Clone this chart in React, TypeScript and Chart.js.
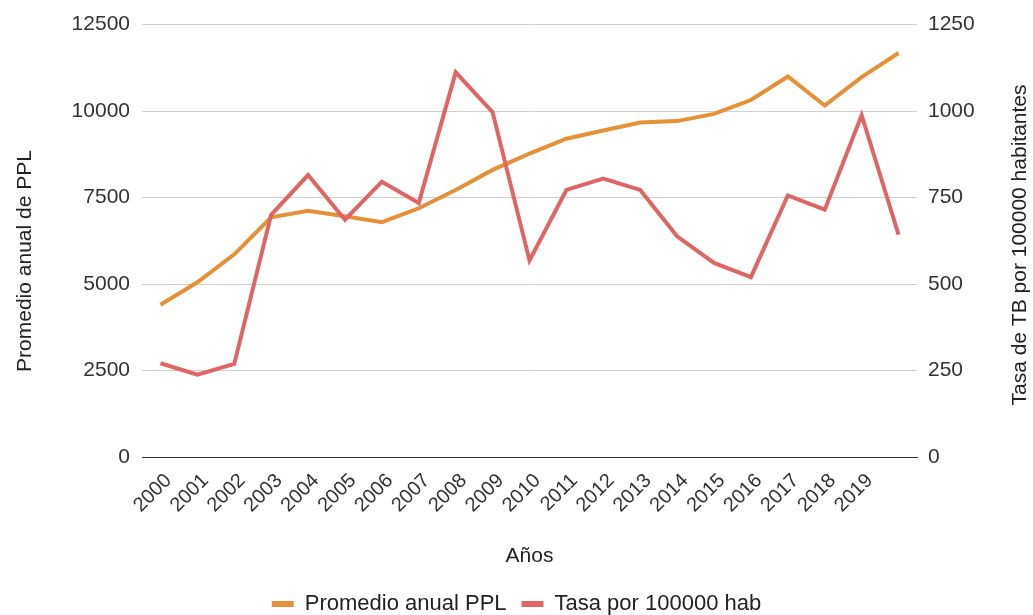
import React, { useEffect, useRef } from "react";
import { Chart, registerables } from "chart.js";

Chart.register(...registerables);

const years = ["2000", "2001", "2002", "2003", "2004", "2005", "2006", "2007", "2008", "2009", "2010", "2011", "2012", "2013", "2014", "2015", "2016", "2017", "2018", "2019", ""];
const promedioPPL = [4400, 5050, 5860, 6930, 7120, 6960, 6790, 7190, 7720, 8300, 8770, 9200, 9440, 9670, 9710, 9920, 10320, 11000, 10160, 10980, 11680];
const tasaTB = [271, 238, 269, 700, 815, 686, 796, 734, 1112, 997, 568, 772, 805, 772, 638, 561, 520, 756, 715, 988, 643];

const seriesNames = ["Promedio anual PPL", "Tasa por 100000 hab"];
const leftTitle = "Promedio anual de PPL";
const rightTitle = "Tasa de TB por 100000 habitantes";
const xTitle = "Años";

const FONT = '"Liberation Sans", Arial, sans-serif';

const axisTitlesPlugin = {
  id: "axisTitles",
  afterDraw(chart: any) {
    const ctx = chart.ctx;
    ctx.save();
    ctx.font = `21px ${FONT}`;
    ctx.fillStyle = "#222";
    ctx.textAlign = "center";
    ctx.textBaseline = "middle";
    ctx.save();
    ctx.translate(25, 261);
    ctx.rotate(-Math.PI / 2);
    ctx.fillText(leftTitle, 0, 0);
    ctx.restore();
    ctx.save();
    ctx.translate(1020, 245);
    ctx.rotate(-Math.PI / 2);
    ctx.fillText(rightTitle, 0, 0);
    ctx.restore();
    ctx.restore();
  },
};

const plain = (v: any) => String(v);

export default function App() {
  const canvasRef = useRef<HTMLCanvasElement | null>(null);

  useEffect(() => {
    document.body.style.margin = "0";
    const canvas = canvasRef.current;
    if (!canvas) return;
    const chart = new Chart(canvas, {
      type: "line",
      data: {
        labels: years,
        datasets: [
          {
            label: seriesNames[0],
            data: promedioPPL,
            borderColor: "#E69138",
            backgroundColor: "#E69138",
            borderWidth: 4,
            pointRadius: 0,
            tension: 0,
            yAxisID: "y",
            order: 1,
          },
          {
            label: seriesNames[1],
            data: tasaTB,
            borderColor: "#E06666",
            backgroundColor: "#E06666",
            borderWidth: 4,
            pointRadius: 0,
            tension: 0,
            yAxisID: "y1",
            order: 0,
          },
        ],
      },
      options: {
        responsive: false,
        animation: false,
        layout: { padding: { top: 22, bottom: -10, left: 0, right: 0 } },
        plugins: {
          tooltip: { enabled: false },
          legend: {
            position: "bottom",
            labels: {
              font: { family: FONT, size: 22 },
              color: "#222",
              boxWidth: 22,
              boxHeight: 6,
              padding: 15,
              sort: (a: any, b: any) => a.datasetIndex - b.datasetIndex,
              generateLabels: (c: any) =>
                Chart.defaults.plugins.legend.labels
                  .generateLabels(c)
                  .map((it: any) => ({ ...it, lineWidth: 0 })),
            },
          },
        },
        scales: {
          x: {
            offset: true,
            grid: { display: false, drawTicks: false },
            border: { display: true, color: "#333", width: 1 },
            ticks: {
              autoSkip: false,
              minRotation: 45,
              maxRotation: 45,
              padding: 12,
              labelOffset: 8,
              color: "#333",
              font: { family: FONT, size: 20 },
            },
            title: {
              display: true,
              text: xTitle,
              color: "#222",
              font: { family: FONT, size: 21 },
              padding: { top: 0, bottom: 9 },
            },
            afterFit: (s: any) => {
              s.height = 121;
            },
          },
          y: {
            position: "left",
            min: 0,
            max: 12500,
            grid: { color: "#d0d0d0", drawTicks: false },
            border: { display: false },
            ticks: {
              stepSize: 2500,
              padding: 12,
              color: "#333",
              font: { family: FONT, size: 21 },
              callback: plain,
            },
            afterFit: (s: any) => {
              s.width = 142;
            },
          },
          y1: {
            position: "right",
            min: 0,
            max: 1250,
            grid: { display: false, drawTicks: false },
            border: { display: false },
            ticks: {
              stepSize: 250,
              padding: 11,
              color: "#333",
              font: { family: FONT, size: 21 },
              callback: plain,
            },
            afterFit: (s: any) => {
              s.width = 116;
            },
          },
        },
      },
      plugins: [axisTitlesPlugin],
    });
    return () => chart.destroy();
  }, []);

  return (
    <div style={{ width: 1033, height: 615, overflow: "hidden", background: "#fff" }}>
      <canvas ref={canvasRef} width={1033} height={615} style={{ width: 1033, height: 615, display: "block" }} />
    </div>
  );
}
